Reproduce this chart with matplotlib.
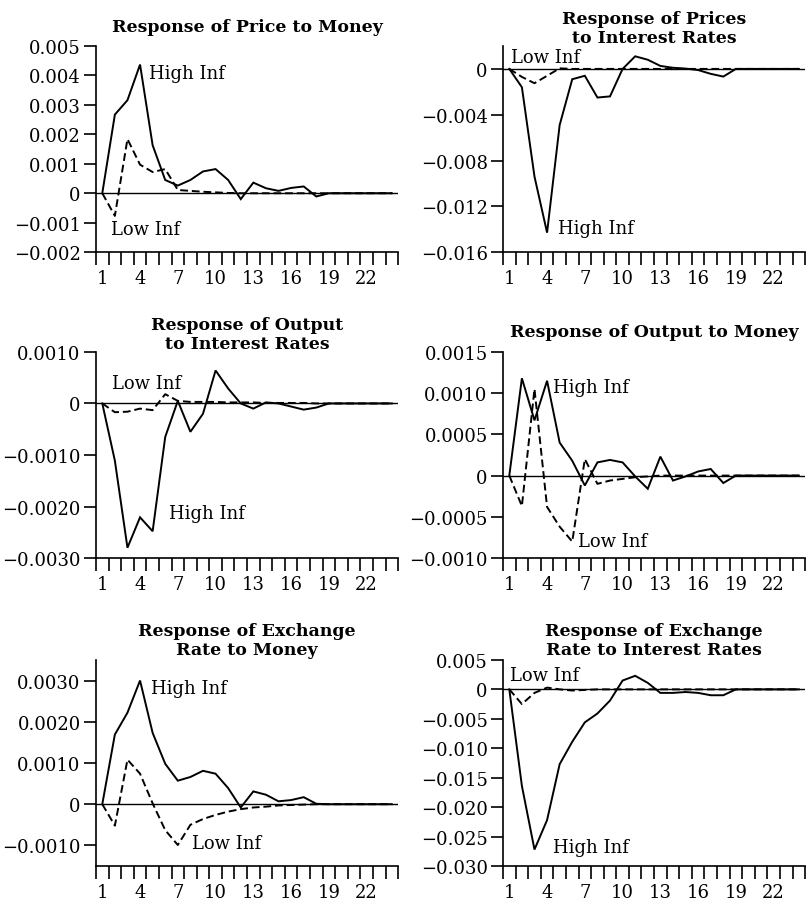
import numpy as np
import matplotlib
matplotlib.use("Agg")
import matplotlib.pyplot as plt
from matplotlib.ticker import FixedLocator, FuncFormatter

plt.rcParams['font.family'] = ['DejaVu Serif']

periods = np.arange(1, 25)

def pad(vals):
    # responses die out after the listed periods
    return np.array(vals + [0.0] * (24 - len(vals)))

# Response of Price to Money
price_money_high = pad([0, 0.00267, 0.00316, 0.00437, 0.00163, 0.00045, 0.00026, 0.00045, 0.00074,
                        0.00082, 0.00045, -0.0002, 0.00036, 0.00017, 0.00008, 0.00018, 0.00023, -0.00011])
price_money_low = pad([0, -0.00077, 0.00184, 0.00097, 0.00072, 0.00082, 0.00011, 0.00008, 0.00005,
                       0.00003, 0.00001])

# Response of Prices to Interest Rates
price_rate_high = pad([0, -0.0016, -0.0094, -0.0143, -0.0049, -0.0009, -0.0006, -0.0025, -0.0024,
                       0.0, 0.0011, 0.0008, 0.00026, 0.0001, 0.00003, -0.0001, -0.00043, -0.00067])
price_rate_low = pad([0, -0.0007, -0.00125, -0.0006, 0.00005])

# Response of Output to Interest Rates
output_rate_high = pad([0, -0.00111, -0.0028, -0.00221, -0.00248, -0.00065, 0.00005, -0.00055, -0.0002,
                        0.00064, 0.00029, 0.0, -0.0001, 0.00002, 0.0, -0.00006, -0.00012, -0.00008])
output_rate_low = pad([0, -0.00017, -0.00016, -0.0001, -0.00013, 0.00018, 0.00005, 0.00003, 0.00003,
                       0.00003, 0.00002, 0.00002, 0.00002, 0.00001, 0.00001, 0.00001, 0.00001])

# Response of Output to Money
output_money_high = pad([0, 0.00118, 0.00067, 0.00115, 0.0004, 0.00018, -0.00012, 0.00016, 0.00019,
                         0.00016, -0.00001, -0.00016, 0.00023, -0.00006, -0.00001, 0.00005, 0.00008, -0.00009])
output_money_low = pad([0, -0.00037, 0.00105, -0.00038, -0.00062, -0.0008, 0.0002, -0.0001, -0.00006,
                        -0.00004, -0.00002, -0.00001])

# Response of Exchange Rate to Money
fx_money_high = pad([0, 0.00169, 0.00222, 0.003, 0.00173, 0.00098, 0.00057, 0.00066, 0.00081,
                     0.00074, 0.00039, -0.00008, 0.00031, 0.00023, 0.00007, 0.0001, 0.00017, 0.00001])
fx_money_low = pad([0, -0.00052, 0.00108, 0.00074, 0.00002, -0.00063, -0.00099, -0.0005, -0.00036,
                    -0.00026, -0.00018, -0.00012, -0.00008, -0.00006, -0.00003, -0.00002, -0.00001])

# Response of Exchange Rate to Interest Rates
fx_rate_high = pad([0, -0.0164, -0.0272, -0.0222, -0.0127, -0.0089, -0.0056, -0.0041, -0.0019,
                    0.0015, 0.0023, 0.0011, -0.0006, -0.0006, -0.00045, -0.0006, -0.001, -0.001])
fx_rate_low = pad([0, -0.0025, -0.0006, 0.0003, 0.0, -0.0002, -0.0001])

titles = ["Response of Price to Money", "Response of Prices\nto Interest Rates",
          "Response of Output\nto Interest Rates", "Response of Output to Money",
          "Response of Exchange\nRate to Money", "Response of Exchange\nRate to Interest Rates"]
high_series = [price_money_high, price_rate_high, output_rate_high, output_money_high, fx_money_high, fx_rate_high]
low_series = [price_money_low, price_rate_low, output_rate_low, output_money_low, fx_money_low, fx_rate_low]
ylims = [(-0.002, 0.005), (-0.016, 0.002), (-0.003, 0.001), (-0.001, 0.0015), (-0.0015, 0.0035), (-0.030, 0.005)]
yticks = [[-0.002, -0.001, 0, 0.001, 0.002, 0.003, 0.004, 0.005],
          [-0.016, -0.012, -0.008, -0.004, 0],
          [-0.003, -0.002, -0.001, 0, 0.001],
          [-0.001, -0.0005, 0, 0.0005, 0.001, 0.0015],
          [-0.001, 0, 0.001, 0.002, 0.003],
          [-0.030, -0.025, -0.020, -0.015, -0.010, -0.005, 0, 0.005]]
ydecimals = [3, 3, 4, 4, 4, 3]
# label anchor (period, value) for "High Inf" and "Low Inf"
high_label = [(4.7, 0.0041), (4.85, -0.0139), (6.3, -0.00213), (4.5, 0.00108), (4.85, 0.00283), (4.45, -0.0267)]
low_label = [(1.7, -0.00123), (1.1, 0.001), (1.8, 0.0004), (6.45, -0.00079), (8.1, -0.00095), (1.05, 0.0025)]

fig = plt.figure(figsize=(8.1, 9.04), dpi=100)
lefts = [0.1185, 0.621]
bottoms = [0.720, 0.3816, 0.0409]
title_pads = [11, 3, 2, 11.5, 4.3, 4.5]

for i in range(6):
    ax = fig.add_axes([lefts[i % 2], bottoms[i // 2], 0.373, 0.228])
    ax.plot(periods, high_series[i], color='black', lw=1.4, solid_joinstyle='miter')
    ax.plot(periods, low_series[i], color='black', lw=1.4, dashes=(4, 2))
    ax.axhline(0, color='black', lw=1.0)
    ax.set_xlim(0.5, 24.5)
    ax.set_ylim(*ylims[i])
    ax.spines[['top', 'right']].set_visible(False)
    ax.spines[['left', 'bottom']].set_linewidth(1.2)
    ax.xaxis.set_major_locator(FixedLocator(range(1, 23, 3)))
    ax.xaxis.set_minor_locator(FixedLocator(np.arange(0.5, 25, 1)))
    ax.tick_params(axis='x', which='major', length=0, pad=12, labelsize=13)
    ax.tick_params(axis='x', which='minor', length=9, width=1.2, direction='out')
    ax.set_yticks(yticks[i])
    d = ydecimals[i]
    ax.yaxis.set_major_formatter(FuncFormatter(
        lambda v, p, d=d: "0" if abs(v) < 1e-12 else f"{v:.{d}f}".replace("-", "\u2212")))
    ax.tick_params(axis='y', length=9, width=1.2, pad=2, labelsize=13)
    ax.text(*high_label[i], "High Inf", fontsize=13, ha='left', va='center')
    ax.text(*low_label[i], "Low Inf", fontsize=13, ha='left', va='center')
    ax.set_title(titles[i], fontsize=12.5, fontweight='bold', linespacing=1.15, pad=title_pads[i])

fig.savefig("out.png", dpi=100)
